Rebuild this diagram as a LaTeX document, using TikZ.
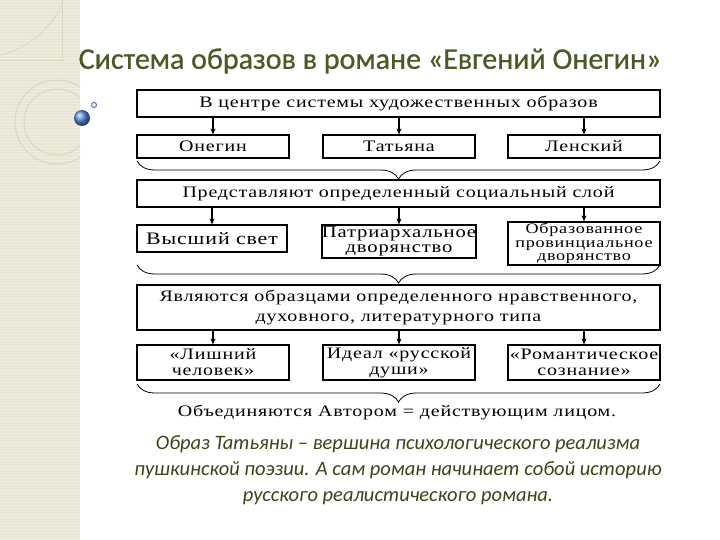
\documentclass[tikz,border=0pt]{standalone}
\usepackage{fontspec}
\usetikzlibrary{arrows.meta,decorations.pathreplacing,calc,shadings}
\setmainfont{Liberation Serif}
\newfontfamily\dfont[FakeStretch=1.25,LetterSpace=5]{Liberation Serif}
\newfontfamily\tfont[FakeBold=0.6]{Carlito}
\newfontfamily\ifont{Carlito}
\definecolor{strip}{HTML}{E9E6D4}
\definecolor{stripline}{HTML}{DAD6BF}
\definecolor{titlecol}{HTML}{4A5A26}
\definecolor{italcol}{HTML}{3C4518}
\definecolor{ballblue}{RGB}{90,140,225}
\definecolor{ringblue}{RGB}{70,110,200}
\tikzset{
  box/.style={draw, line width=1.2pt, fill=white, inner sep=0pt, align=center,
    font=\dfont\fontsize{16}{16}\selectfont},
  arr/.style={line width=1.1pt, -{Stealth[length=6pt,width=5pt]}},
  brc/.style={line width=0.8pt, decorate, decoration={brace, mirror, amplitude=18pt, aspect=0.5}}
}
\begin{document}
\begin{tikzpicture}[x=1pt,y=-1pt]
\useasboundingbox (0,0) rectangle (720,540);
\fill[white] (0,0) rectangle (720,540);
% left decorative strip
\fill[strip] (0,0) rectangle (80,540);
\foreach \yy in {1.5,4.5,...,540} {\draw[white, opacity=0.35, line width=0.6pt] (0,\yy) -- (80,\yy);}
\draw[stripline, line width=0.8pt] (62,0) -- (62,60) -- (0,60);
\draw[stripline, line width=0.8pt] (0,55) .. controls (25,50) and (50,30) .. (62,5);
\begin{scope}
  \clip (0,0) rectangle (80,540);
  \draw[stripline, line width=1pt] (57,122) circle (42);
  \draw[stripline, line width=1pt] (57,122) circle (33);
\end{scope}
% blue ball
\shade[ball color=ballblue] (82,118) circle (8);
\draw[ringblue, line width=1pt] (94,105) circle (2.5);
% title
\node[font=\tfont\fontsize{30}{33}\selectfont, text=titlecol, anchor=center] (title) at (370,61) {Система образов в романе «Евгений Онегин»};
% row 1
\node[box, minimum width=523pt, minimum height=27pt] (b1) at (398.5,103.5) {В центре системы художественных образов};
\node[box, minimum width=152pt, minimum height=23pt] (o) at (213,146.5) {Онегин};
\node[box, minimum width=152pt, minimum height=23pt] (t) at (399,146.5) {Татьяна};
\node[box, minimum width=152pt, minimum height=23pt] (l) at (584,146.5) {Ленский};
\draw[arr] (b1.south -| o.north) -- (o.north);
\draw[arr] (b1.south -| t.north) -- (t.north);
\draw[arr] (b1.south -| l.north) -- (l.north);
\coordinate (br1a) at (137,161);
\coordinate (br1b) at (660,161);
\draw[brc] (br1a) -- (br1b);
% row 2
\node[box, minimum width=523pt, minimum height=27pt] (b2) at (398.5,193.5) {Представляют определенный социальный слой};
\node[box, minimum width=150pt, minimum height=27pt, font=\dfont\fontsize{17.5}{17}\selectfont] (v) at (212,238.5) {Высший свет};
\node[box, minimum width=152pt, minimum height=33pt, font=\dfont\fontsize{16.5}{15}\selectfont] (p) at (399,241.5) {Патриархальное\\дворянство};
\node[box, minimum width=152pt, minimum height=43pt, font=\dfont\fontsize{14.5}{13.5}\selectfont] (ob) at (584,243.5) {Образованное\\провинциальное\\дворянство};
\draw[arr] (b2.south -| v.north) -- (v.north);
\draw[arr] (b2.south -| p.north) -- (p.north);
\draw[arr] (b2.south -| ob.north) -- (ob.north);
\coordinate (br2a) at (137,265);
\coordinate (br2b) at (660,265);
\draw[brc] (br2a) -- (br2b);
% row 3
\node[box, minimum width=523pt, minimum height=45pt, font=\dfont\fontsize{16}{20}\selectfont] (b3) at (398.5,307.5) {Являются образцами определенного нравственного,\\духовного, литературного типа};
\node[box, minimum width=152pt, minimum height=35pt] (li) at (213,362.5) {«Лишний\\человек»};
\node[box, minimum width=152pt, minimum height=35pt] (id) at (399,362.5) {Идеал «русской\\души»};
\node[box, minimum width=152pt, minimum height=35pt] (ro) at (584,362.5) {«Романтическое\\сознание»};
\draw[arr] (b3.south -| li.north) -- (li.north);
\draw[arr] (b3.south -| id.north) -- (id.north);
\draw[arr] (b3.south -| ro.north) -- (ro.north);
\coordinate (br3a) at (137,384);
\coordinate (br3b) at (660,384);
\draw[brc] (br3a) -- (br3b);
\node[font=\dfont\fontsize{16}{16}\selectfont] (avt) at (397,412) {Объединяются Автором = действующим лицом.};
% italic text
\node[font=\ifont\itshape\fontsize{20.5}{26}\selectfont, text=italcol, align=center, anchor=center] (it) at (398,470) {Образ Татьяны – вершина психологического реализма\\пушкинской поэзии. А сам роман начинает собой историю\\русского реалистического романа.};
\end{tikzpicture}
\end{document}
